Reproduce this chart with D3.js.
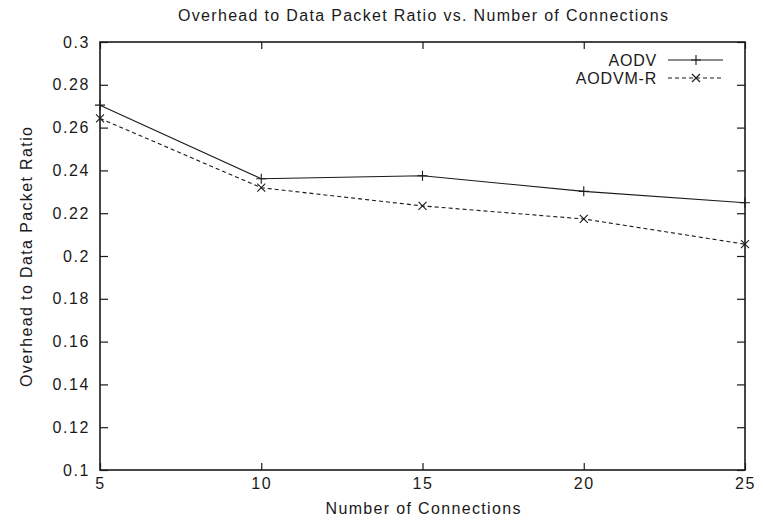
<!DOCTYPE html>
<html>
<head>
<meta charset="utf-8">
<script src="https://cdn.jsdelivr.net/npm/d3@7"></script>
<style>
  html, body { margin: 0; padding: 0; background: #fff; }
  svg { display: block; font-family: "Liberation Sans", Arial, sans-serif; }
</style>
</head>
<body>
<script>
// Number of connections on the x axis
const connections = [5, 10, 15, 20, 25];
// Overhead to data packet ratio per protocol
const aodv = [0.2705, 0.2361, 0.2375, 0.2302, 0.2249];
const aodvmr = [0.2643, 0.2319, 0.2234, 0.2173, 0.2055];
const seriesNames = ["AODV", "AODVM-R"];
const xTicks = [5, 10, 15, 20, 25];
const yTicks = [0.1, 0.12, 0.14, 0.16, 0.18, 0.2, 0.22, 0.24, 0.26, 0.28, 0.3];

const W = 763, H = 526;
const plotL = 100, plotR = 745, plotT = 42, plotB = 470;
const ink = "#1a1a1a";

const svg = d3.select("body").append("svg").attr("width", W).attr("height", H);

const x = d3.scaleLinear().domain([5, 25]).range([plotL, plotR]);
const y = d3.scaleLinear().domain([0.1, 0.3]).range([plotB, plotT]);

const fmt = d => String(+d.toFixed(2));

function styleAxis(g) {
  g.select(".domain").remove();
  g.selectAll(".tick line").attr("stroke", ink).attr("stroke-width", 1.2);
  g.selectAll(".tick text").attr("fill", ink).attr("font-size", 16).attr("letter-spacing", "1.6px")
    .attr("font-family", "Liberation Sans, Arial, sans-serif");
}

// left axis with inward ticks and labels
svg.append("g").attr("transform", `translate(${plotL},0)`)
  .call(d3.axisLeft(y).tickValues(yTicks).tickFormat(fmt).tickSize(-8).tickPadding(10))
  .call(styleAxis);
// right mirror ticks
svg.append("g").attr("transform", `translate(${plotR},0)`)
  .call(d3.axisRight(y).tickValues(yTicks).tickFormat("").tickSize(-8))
  .call(styleAxis);
// bottom axis
svg.append("g").attr("transform", `translate(0,${plotB})`)
  .call(d3.axisBottom(x).tickValues(xTicks).tickFormat(d3.format("d")).tickSize(-7).tickPadding(8))
  .call(styleAxis);
// top mirror ticks
svg.append("g").attr("transform", `translate(0,${plotT})`)
  .call(d3.axisTop(x).tickValues(xTicks).tickFormat("").tickSize(-7))
  .call(styleAxis);

// frame
svg.append("rect").attr("x", plotL).attr("y", plotT)
  .attr("width", plotR - plotL).attr("height", plotB - plotT)
  .attr("fill", "none").attr("stroke", ink).attr("stroke-width", 1.6);

const line = d3.line().x((d, i) => x(connections[i])).y(d => y(d));

function drawPlus(g, cx, cy) {
  g.append("path").attr("d", `M${cx - 5},${cy}H${cx + 5}M${cx},${cy - 5}V${cy + 5}`)
    .attr("stroke", ink).attr("stroke-width", 1.1).attr("fill", "none");
}
function drawX(g, cx, cy) {
  g.append("path").attr("d", `M${cx - 4},${cy - 4}L${cx + 4},${cy + 4}M${cx - 4},${cy + 4}L${cx + 4},${cy - 4}`)
    .attr("stroke", ink).attr("stroke-width", 1.1).attr("fill", "none");
}

const gA = svg.append("g");
gA.append("path").datum(aodv).attr("d", line)
  .attr("fill", "none").attr("stroke", ink).attr("stroke-width", 1.1);
aodv.forEach((v, i) => drawPlus(gA, x(connections[i]), y(v)));

const gB = svg.append("g");
gB.append("path").datum(aodvmr).attr("d", line)
  .attr("fill", "none").attr("stroke", ink).attr("stroke-width", 1.1)
  .attr("stroke-dasharray", "4,3");
aodvmr.forEach((v, i) => drawX(gB, x(connections[i]), y(v)));

// legend
const legY = [60, 78];
const lg = svg.append("g").attr("font-size", 16).attr("fill", ink);
seriesNames.forEach((name, i) => {
  lg.append("text").attr("x", 657).attr("y", legY[i]).attr("dy", "0.35em")
    .attr("text-anchor", "end").attr("letter-spacing", "0.8px").text(name);
  const p = lg.append("path").attr("d", `M668,${legY[i]}H723`)
    .attr("stroke", ink).attr("stroke-width", 1.1).attr("fill", "none");
  if (i === 1) p.attr("stroke-dasharray", "4,3");
  if (i === 0) drawPlus(lg, 696, legY[i]); else drawX(lg, 696, legY[i]);
});

// title and axis labels
svg.append("text").attr("x", 423).attr("y", 15).attr("dy", "0.35em")
  .attr("text-anchor", "middle").attr("font-size", 16).attr("fill", ink)
  .attr("textLength", 490).attr("lengthAdjust", "spacing")
  .text("Overhead to Data Packet Ratio vs. Number of Connections");

svg.append("text").attr("x", 423).attr("y", 508).attr("dy", "0.35em")
  .attr("text-anchor", "middle").attr("font-size", 16).attr("fill", ink)
  .attr("textLength", 195).attr("lengthAdjust", "spacing")
  .text("Number of Connections");

svg.append("text").attr("transform", "translate(26,257) rotate(-90)").attr("dy", "0.35em")
  .attr("text-anchor", "middle").attr("font-size", 16).attr("fill", ink)
  .attr("textLength", 260).attr("lengthAdjust", "spacing")
  .text("Overhead to Data Packet Ratio");
</script>
</body>
</html>
